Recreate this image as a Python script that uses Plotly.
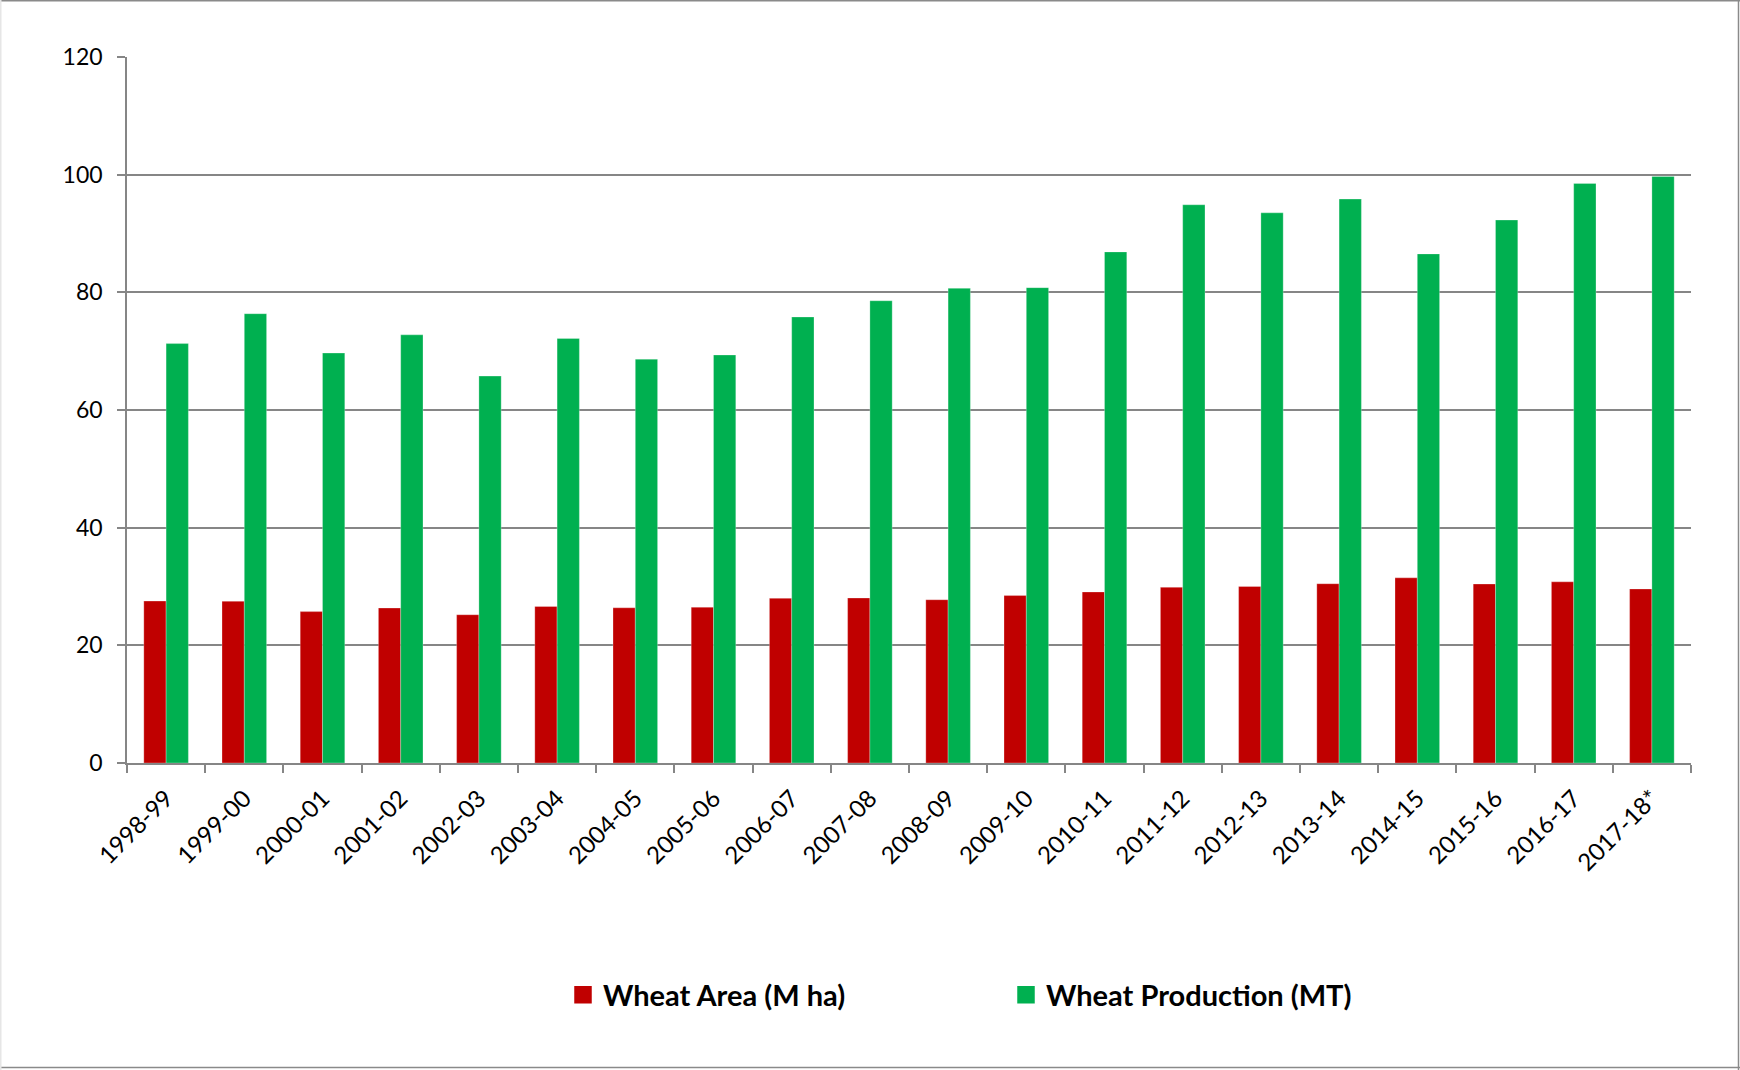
import plotly.graph_objects as go

years = ["1998-99", "1999-00", "2000-01", "2001-02", "2002-03", "2003-04", "2004-05",
         "2005-06", "2006-07", "2007-08", "2008-09", "2009-10", "2010-11", "2011-12",
         "2012-13", "2013-14", "2014-15", "2015-16", "2016-17", "2017-18*"]
wheat_area = [27.52, 27.49, 25.73, 26.34, 25.20, 26.60, 26.38, 26.48, 27.99, 28.04,
              27.75, 28.46, 29.07, 29.86, 30.00, 30.47, 31.47, 30.42, 30.79, 29.58]
wheat_production = [71.29, 76.37, 69.68, 72.77, 65.76, 72.15, 68.64, 69.35, 75.81, 78.57,
                    80.68, 80.80, 86.87, 94.88, 93.51, 95.85, 86.53, 92.29, 98.51, 99.70]
y_ticks = [0, 20, 40, 60, 80, 100, 120]
series_names = ["Wheat Area (M ha)", "Wheat Production (MT)"]
series_colors = ["#C00000", "#00B050"]

W, H = 1740, 1070
ML, MR, MT, MB = 127, 49, 57, 307
pw, ph = W - ML - MR, H - MT - MB

FONT = "Lato"
GRID = "#868686"

fig = go.Figure()
for vals, name, col in zip([wheat_area, wheat_production], series_names, series_colors):
    fig.add_trace(go.Bar(x=years, y=vals, name=name, showlegend=False,
                         marker=dict(color=col, line=dict(color="rgba(255,255,255,0.45)", width=0.6))))
# legend entries (square swatches)
for name, col in zip(series_names, series_colors):
    fig.add_trace(go.Scatter(x=[None], y=[None], mode="markers", name=name,
                             marker=dict(symbol="square", size=16, color=col,
                                         line=dict(color=col, width=1.5))))

def px_to_paper_x(px):
    return (px - ML) / pw

def px_to_paper_y(py):
    return (H - MB - py) / ph

shapes = [
    dict(type="line", xref="paper", yref="paper", x0=px_to_paper_x(0), x1=px_to_paper_x(W),
         y0=px_to_paper_y(0.75), y1=px_to_paper_y(0.75), line=dict(color="#8a8a8a", width=1.5)),
    dict(type="line", xref="paper", yref="paper", x0=px_to_paper_x(W - 1.5), x1=px_to_paper_x(W - 1.5),
         y0=px_to_paper_y(0), y1=px_to_paper_y(H), line=dict(color="#8a8a8a", width=1.5)),
    dict(type="line", xref="paper", yref="paper", x0=px_to_paper_x(0), x1=px_to_paper_x(W),
         y0=px_to_paper_y(H - 2.5), y1=px_to_paper_y(H - 2.5), line=dict(color="#8a8a8a", width=1.5)),
    dict(type="line", xref="paper", yref="paper", x0=px_to_paper_x(0.75), x1=px_to_paper_x(0.75),
         y0=px_to_paper_y(0), y1=px_to_paper_y(H), line=dict(color="#e6e6e6", width=1.5)),
]

fig.update_layout(
    width=W, height=H,
    margin=dict(l=ML, r=MR, t=MT, b=MB, pad=0),
    paper_bgcolor="white", plot_bgcolor="white",
    barmode="group", bargap=0.43, bargroupgap=0,
    font=dict(family=FONT, color="black", size=22),
    showlegend=True,
    legend=dict(orientation="h", xanchor="left", x=px_to_paper_x(563),
                yanchor="middle", y=px_to_paper_y(995),
                font=dict(family=FONT, size=29, color="black", weight="bold"),
                entrywidth=398, entrywidthmode="pixels",
                bgcolor="rgba(0,0,0,0)", traceorder="normal"),
    shapes=shapes,
)

fig.update_xaxes(
    type="category", tickangle=-45, showgrid=False,
    showline=True, linecolor=GRID, linewidth=1.5,
    ticks="outside", tickson="boundaries", ticklen=8, tickcolor=GRID, tickwidth=1.5,
    tickfont=dict(family=FONT, size=24, color="black"),
    ticklabelstandoff=10,
)
fig.update_yaxes(
    range=[0, 120], tickvals=y_ticks, ticktext=[str(v) for v in y_ticks],
    showgrid=True, gridcolor=GRID, gridwidth=1.5,
    showline=True, linecolor=GRID, linewidth=1.5,
    ticks="outside", ticklen=8, tickcolor=GRID, tickwidth=1.5,
    tickfont=dict(family=FONT, size=23, color="black"),
    ticklabelstandoff=10, zeroline=False,
)

fig.write_html("out.html", config={"displayModeBar": False},
               post_script="document.body.style.margin='0';document.body.style.padding='0';")
